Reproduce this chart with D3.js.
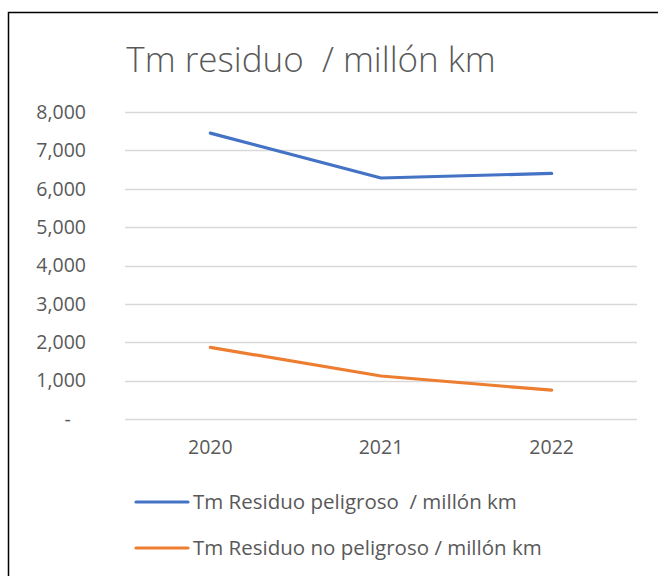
<!DOCTYPE html>
<html>
<head>
<meta charset="utf-8">
<script src="https://cdn.jsdelivr.net/npm/d3@7"></script>
<style>
  body { margin: 0; background: #fff; }
  text { font-family: "Open Sans", sans-serif; fill: #595959; white-space: pre; }
</style>
</head>
<body>
<div id="chart"></div>
<script>
  const years = ["2020", "2021", "2022"];
  const peligroso = [7450, 6280, 6400];
  const noPeligroso = [1865, 1120, 750];
  const yTicks = [0, 1000, 2000, 3000, 4000, 5000, 6000, 7000, 8000];
  const seriesNames = [
    "Tm Residuo peligroso  / millón km",
    "Tm Residuo no peligroso / millón km",
  ];
  const colors = ["#4472c4", "#ed7d31"];

  const width = 658,
    height = 576;
  const margin = { top: 112, right: 21, bottom: 157, left: 125 };

  const svg = d3
    .select("#chart")
    .append("svg")
    .attr("width", width)
    .attr("height", height);

  // chart frame (only top and left visible in the crop)
  svg
    .append("path")
    .attr("d", "M8.5," + height + "V12.5H" + width)
    .attr("fill", "none")
    .attr("stroke", "#000")
    .attr("stroke-width", 1.5);

  svg
    .append("text")
    .attr("x", 311)
    .attr("y", 72)
    .attr("text-anchor", "middle")
    .style("font-size", "35px")
    .style("font-weight", 300)
    .text("Tm residuo  / millón km");

  const x = d3
    .scaleBand()
    .domain(years)
    .range([margin.left, width - margin.right]);

  const y = d3
    .scaleLinear()
    .domain([0, 8000])
    .range([height - margin.bottom, margin.top]);

  // gridlines
  svg
    .append("g")
    .selectAll("line")
    .data(yTicks)
    .join("line")
    .attr("x1", margin.left)
    .attr("x2", width - margin.right)
    .attr("y1", (d) => Math.round(y(d)) + 0.5)
    .attr("y2", (d) => Math.round(y(d)) + 0.5)
    .attr("stroke", "#d9d9d9")
    .attr("stroke-width", 1.3);

  const yAxis = svg
    .append("g")
    .attr("transform", "translate(" + 86 + ",0)")
    .call(
      d3
        .axisLeft(y)
        .tickValues(yTicks)
        .tickSize(0)
        .tickPadding(0)
        .tickFormat((d) => (d === 0 ? "-   " : d3.format(",")(d)))
    );
  yAxis.select(".domain").remove();
  yAxis.selectAll("text").style("font-size", "19.5px").style("fill", "#595959");

  const xAxis = svg
    .append("g")
    .attr("transform", "translate(0," + 440 + ")")
    .call(d3.axisBottom(x).tickSize(0).tickPadding(0));
  xAxis.select(".domain").remove();
  xAxis.selectAll("text").style("font-size", "19.5px").style("fill", "#595959");

  const line = d3
    .line()
    .x((d, i) => x(years[i]) + x.bandwidth() / 2)
    .y((d) => y(d));

  [peligroso, noPeligroso].forEach((s, i) => {
    svg
      .append("path")
      .datum(s)
      .attr("d", line)
      .attr("fill", "none")
      .attr("stroke", colors[i])
      .attr("stroke-width", 3.2)
      .attr("stroke-linecap", "round")
      .attr("stroke-linejoin", "round");
  });

  // legend
  const legend = svg
    .append("g")
    .selectAll("g")
    .data(seriesNames)
    .join("g")
    .attr("transform", (d, i) => "translate(136," + (502 + i * 46) + ")");

  legend
    .append("line")
    .attr("x1", 0)
    .attr("x2", 52)
    .attr("stroke", (d, i) => colors[i])
    .attr("stroke-width", 3.2)
    .attr("stroke-linecap", "round");

  legend
    .append("text")
    .attr("x", 57)
    .attr("dy", "0.35em")
    .style("font-size", "20.5px")
    .text((d) => d);
</script>
</body>
</html>
